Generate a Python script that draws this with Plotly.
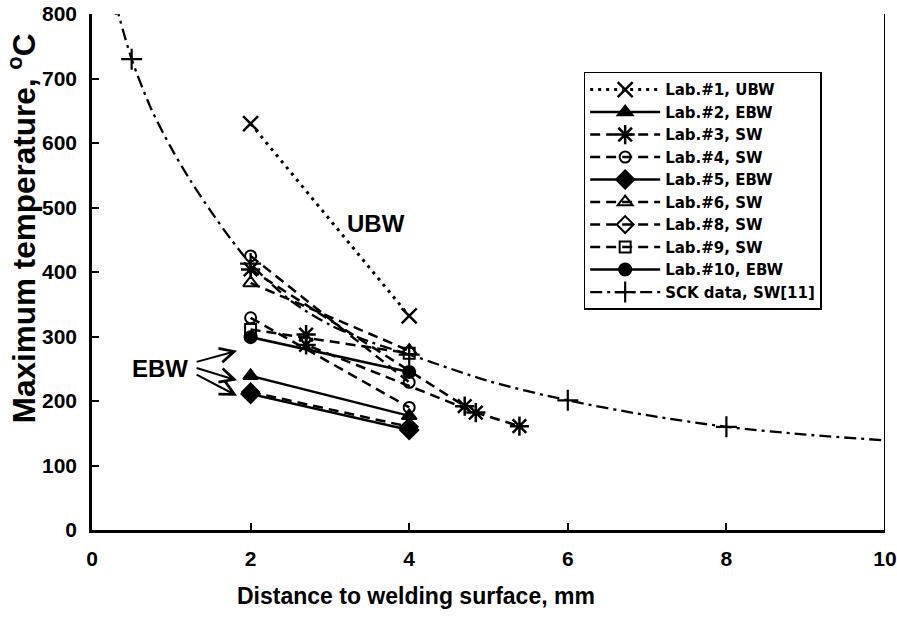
import plotly.graph_objects as go

# Measured maximum temperatures (deg C) versus distance to the welding surface (mm)
lab1_x = [2, 4]
lab1_y = [630, 332]
lab2_x = [2, 4]
lab2_y = [239, 177]
lab3_x = [2, 4.7, None, 2.7, 2.7, 4.84, 5.39]
lab3_y = [404, 192, None, 303, 287, 182, 161]
lab4_x = [2, 4, None, 2, 4]
lab4_y = [425, 229, None, 329, 190]
lab5_x = [2, 4]
lab5_y = [211, 155]
lab6_x = [2, 4]
lab6_y = [383, 278]
lab8_x = [2, 4]
lab8_y = [214, 160]
lab9_x = [2, 4]
lab9_y = [311, 274]
lab10_x = [2, 4]
lab10_y = [299, 245]

# SCK reference data and the curve drawn through them
sck_x = [0.5, 2, 4, 6, 8]
sck_curve_x = [0.3, 0.5, 0.75, 1, 1.25, 1.5, 1.75, 2, 2.5, 3, 3.5, 4, 5, 6, 7, 8, 9, 10]
sck_curve_y = [815, 730, 652, 592, 540, 494, 451, 413, 356, 318, 292, 272, 231, 201, 178, 160, 148, 139]

x_ticks = [0, 2, 4, 6, 8, 10]
y_ticks = [0, 100, 200, 300, 400, 500, 600, 700, 800]

FONT = "Liberation Sans, Arial, sans-serif"
LEGEND_FONT = "DejaVu Sans, Verdana, sans-serif"
DASH = "10px,6px"
BLACK = "black"

fig = go.Figure()


def add_series(name, xs, ys, symbol, size, dash, width=2.5, line_w=2):
    fig.add_trace(go.Scatter(
        x=xs, y=ys, name=name, mode="lines+markers",
        line=dict(color=BLACK, width=width, dash=dash),
        marker=dict(symbol=symbol, size=size, color=BLACK,
                    line=dict(color=BLACK, width=line_w)),
        connectgaps=False,
    ))


add_series("Lab.#1, UBW", lab1_x, lab1_y, "x-thin", 15, "3px,5px", width=3, line_w=2.5)
add_series("Lab.#2, EBW", lab2_x, lab2_y, "triangle-up", 13, "solid")
add_series("Lab.#3, SW", lab3_x, lab3_y, "asterisk", 16, DASH, line_w=2.5)
add_series("Lab.#4, SW", lab4_x, lab4_y, "circle-open", 11, DASH)
add_series("Lab.#5, EBW", lab5_x, lab5_y, "diamond", 14, "solid")
add_series("Lab.#6, SW", lab6_x, lab6_y, "triangle-up-open", 13, DASH)
add_series("Lab.#8, SW", lab8_x, lab8_y, "diamond-open", 13, DASH)
add_series("Lab.#9, SW", lab9_x, lab9_y, "square-open", 11, DASH)
add_series("Lab.#10, EBW", lab10_x, lab10_y, "circle", 12, "solid")

# Markers only on the measured SCK points; the first (off-scale) point keeps
# the legend symbol black.
sck_colors = [BLACK if (i == 0 or x in sck_x) else "rgba(0,0,0,0)"
              for i, x in enumerate(sck_curve_x)]
fig.add_trace(go.Scatter(
    x=sck_curve_x, y=sck_curve_y, name="SCK data, SW[11]", mode="lines+markers",
    line=dict(color=BLACK, width=2.3, dash="12px,5px,3px,5px", shape="spline", smoothing=0.8),
    marker=dict(symbol="cross-thin", size=15, color=sck_colors,
                line=dict(color=sck_colors, width=2.2)),
))

bold = dict(family=FONT, color=BLACK, weight="bold")
annotations = [
    dict(x=3.58, y=475, text="UBW", showarrow=False, font=dict(size=24, **bold)),
    dict(x=0.86, y=250, text="EBW", showarrow=False, font=dict(size=24, **bold)),
    # axis titles
    dict(x=0.409, y=-0.128, xref="paper", yref="paper", showarrow=False,
         text="Distance to welding surface, mm", xanchor="center", yanchor="middle",
         font=dict(size=23, **bold)),
    dict(x=-0.088, y=0.585, xref="paper", yref="paper", showarrow=False, textangle=-90,
         text="Maximum temperature, <sup>o</sup>C", xanchor="center", yanchor="middle",
         font=dict(size=31.5, **bold)),
]
# EBW arrows: tails at the label, heads at the EBW points at 2 mm
arrow_tails = [(1.30, 260), (1.30, 252), (1.30, 242)]
arrow_heads = [(1.83, 278), (1.83, 232), (1.83, 208)]
for (tx, ty), (hx, hy) in zip(arrow_tails, arrow_heads):
    annotations.append(dict(
        x=hx, y=hy, ax=tx, ay=ty, xref="x", yref="y", axref="x", ayref="y",
        text="", showarrow=True, arrowhead=5, arrowsize=1.4, arrowwidth=2,
        arrowcolor=BLACK,
    ))

fig.update_layout(
    width=897, height=619,
    margin=dict(l=92, r=12, t=14, b=89, autoexpand=False),
    paper_bgcolor="white", plot_bgcolor="white",
    font=dict(family=FONT, color=BLACK),
    annotations=annotations,
    shapes=[dict(type="line", xref="x", yref="y", x0=10, x1=10, y0=0, y1=800,
                 line=dict(color=BLACK, width=2))],
    legend=dict(
        x=0.62, y=0.888, xanchor="left", yanchor="top",
        bgcolor="white", bordercolor=BLACK, borderwidth=1.5,
        font=dict(size=15, family=LEGEND_FONT, color=BLACK, weight="bold"),
        itemwidth=70, tracegroupgap=0, entrywidth=190, entrywidthmode="pixels",
    ),
    xaxis=dict(
        range=[0, 10], tickvals=x_ticks, ticks="inside", ticklen=7, tickwidth=2,
        tickcolor=BLACK, showline=True, linewidth=2.5, linecolor=BLACK,
        showgrid=False, zeroline=False, ticklabelstandoff=8, ticklabeloverflow="allow",
        automargin=False, tickfont=dict(size=21, **bold),
    ),
    yaxis=dict(
        range=[0, 800], tickvals=y_ticks, ticks="inside", ticklen=7, tickwidth=2,
        tickcolor=BLACK, showline=True, linewidth=2.5, linecolor=BLACK,
        showgrid=False, zeroline=False, ticklabelstandoff=8,
        automargin=False, tickfont=dict(size=21, **bold),
    ),
)

fig.write_html("out.html")
